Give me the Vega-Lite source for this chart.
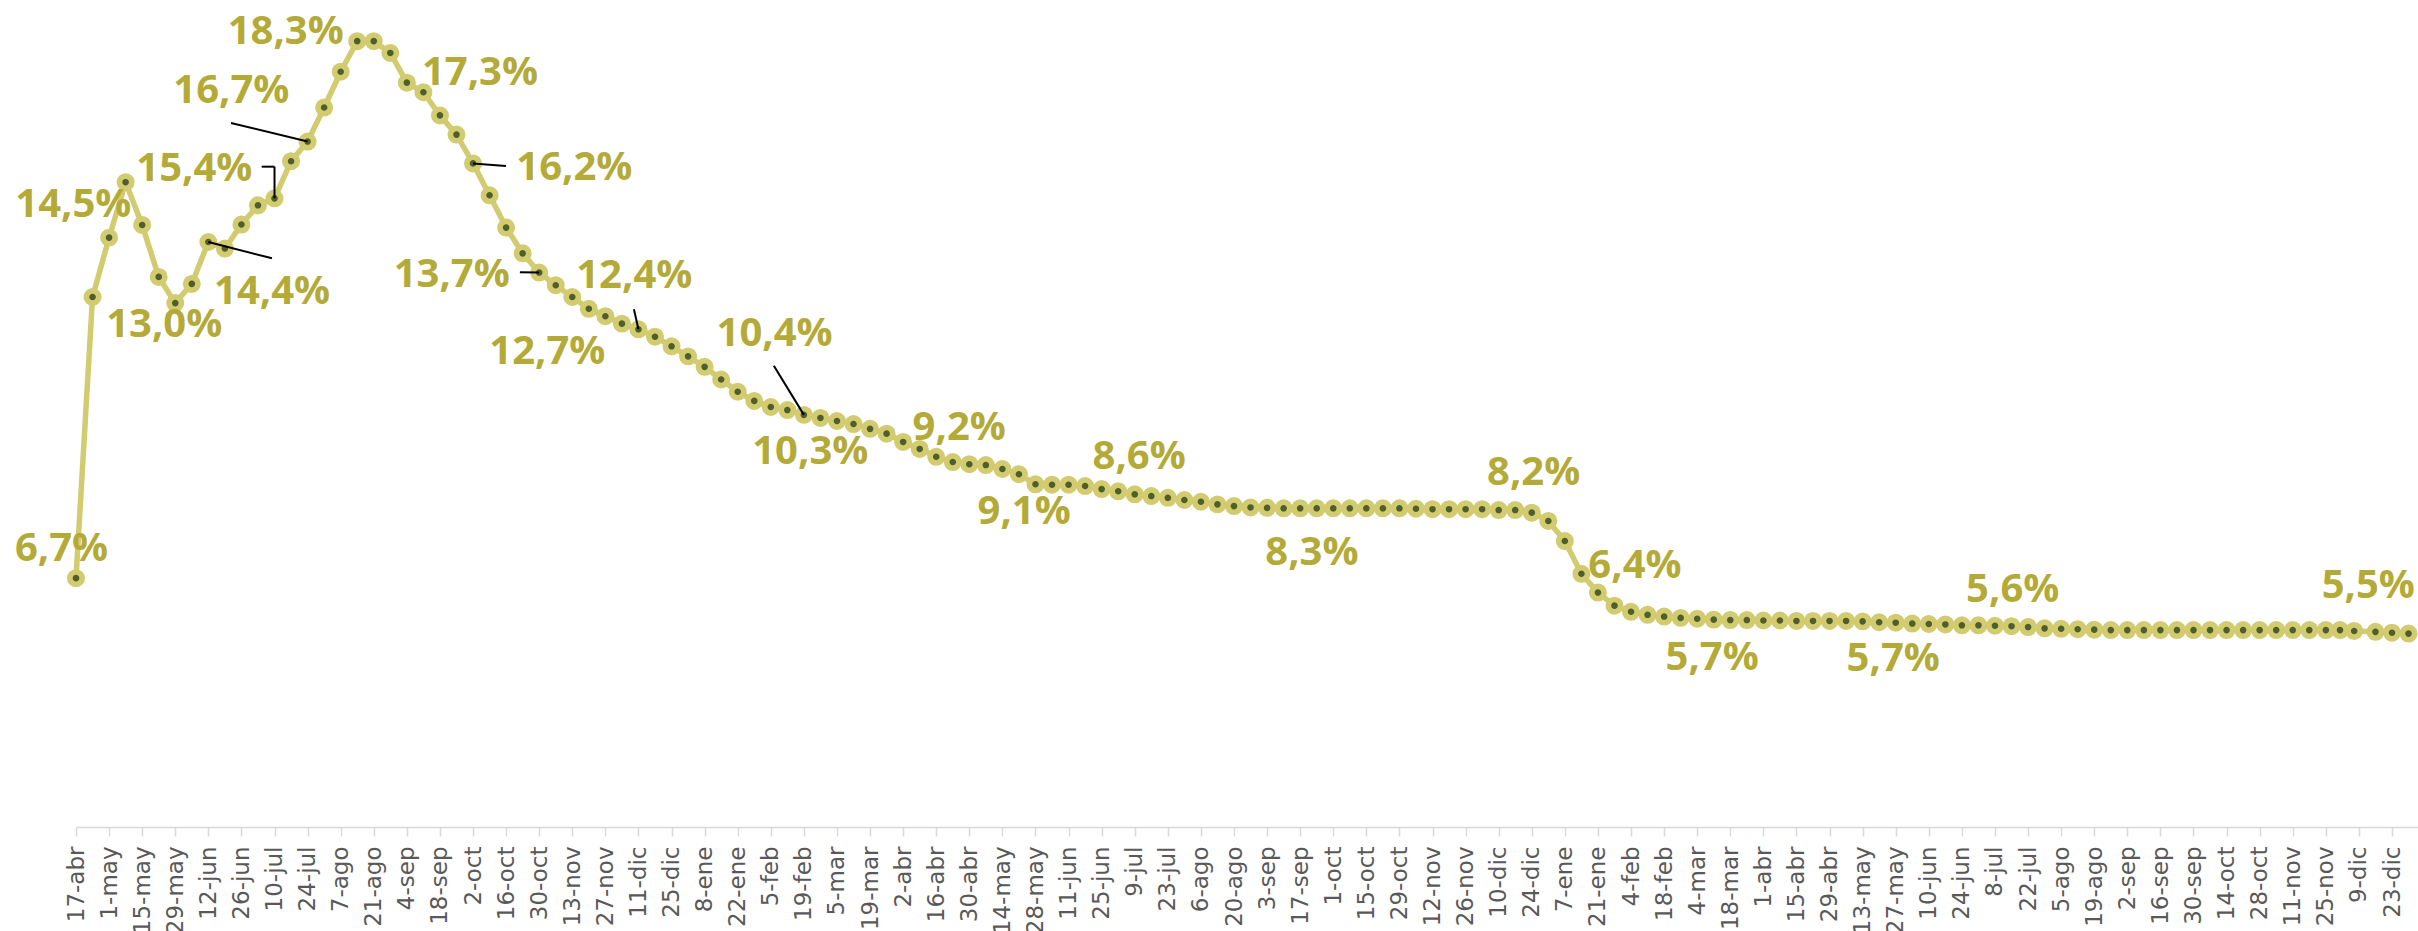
{
  "$schema": "https://vega.github.io/schema/vega-lite/v6.json",
  "width": 2342,
  "height": 826,
  "autosize": "none",
  "padding": {"left": 76, "top": 1, "right": 0, "bottom": 104},
  "background": "white",
  "config": {
    "view": {"stroke": null},
    "text": {"font": "Open Sans", "fontSize": 40, "fontWeight": "bold", "color": "#b4aa38", "align": "center", "baseline": "middle"}
  },
  "data": {"values": [
    {"fecha": "2020-04-17", "v": 6.7, "etiqueta": "6,7%"},
    {"fecha": "2020-04-24", "v": 13.14},
    {"fecha": "2020-05-01", "v": 14.5, "etiqueta": "14,5%"},
    {"fecha": "2020-05-08", "v": 15.77},
    {"fecha": "2020-05-15", "v": 14.79},
    {"fecha": "2020-05-22", "v": 13.6},
    {"fecha": "2020-05-29", "v": 13.0, "etiqueta": "13,0%"},
    {"fecha": "2020-06-05", "v": 13.44},
    {"fecha": "2020-06-12", "v": 14.4, "etiqueta": "14,4%"},
    {"fecha": "2020-06-19", "v": 14.25},
    {"fecha": "2020-06-26", "v": 14.8},
    {"fecha": "2020-07-03", "v": 15.24},
    {"fecha": "2020-07-10", "v": 15.4, "etiqueta": "15,4%"},
    {"fecha": "2020-07-17", "v": 16.25},
    {"fecha": "2020-07-24", "v": 16.7, "etiqueta": "16,7%"},
    {"fecha": "2020-07-31", "v": 17.48},
    {"fecha": "2020-08-07", "v": 18.3, "etiqueta": "18,3%"},
    {"fecha": "2020-08-14", "v": 19.0},
    {"fecha": "2020-08-21", "v": 19.0},
    {"fecha": "2020-08-28", "v": 18.73},
    {"fecha": "2020-09-04", "v": 18.05},
    {"fecha": "2020-09-11", "v": 17.83},
    {"fecha": "2020-09-18", "v": 17.3, "etiqueta": "17,3%"},
    {"fecha": "2020-09-25", "v": 16.86},
    {"fecha": "2020-10-02", "v": 16.2, "etiqueta": "16,2%"},
    {"fecha": "2020-10-09", "v": 15.47},
    {"fecha": "2020-10-16", "v": 14.73},
    {"fecha": "2020-10-23", "v": 14.14},
    {"fecha": "2020-10-30", "v": 13.7, "etiqueta": "13,7%"},
    {"fecha": "2020-11-06", "v": 13.41},
    {"fecha": "2020-11-13", "v": 13.14},
    {"fecha": "2020-11-20", "v": 12.87},
    {"fecha": "2020-11-27", "v": 12.7, "etiqueta": "12,7%"},
    {"fecha": "2020-12-04", "v": 12.53},
    {"fecha": "2020-12-11", "v": 12.4, "etiqueta": "12,4%"},
    {"fecha": "2020-12-18", "v": 12.23},
    {"fecha": "2020-12-25", "v": 12.01},
    {"fecha": "2021-01-01", "v": 11.78},
    {"fecha": "2021-01-08", "v": 11.54},
    {"fecha": "2021-01-15", "v": 11.25},
    {"fecha": "2021-01-22", "v": 10.97},
    {"fecha": "2021-01-29", "v": 10.76},
    {"fecha": "2021-02-05", "v": 10.62},
    {"fecha": "2021-02-12", "v": 10.55},
    {"fecha": "2021-02-19", "v": 10.44, "etiqueta": "10,4%"},
    {"fecha": "2021-02-26", "v": 10.37},
    {"fecha": "2021-03-05", "v": 10.3, "etiqueta": "10,3%"},
    {"fecha": "2021-03-12", "v": 10.23},
    {"fecha": "2021-03-19", "v": 10.12},
    {"fecha": "2021-03-26", "v": 10.01},
    {"fecha": "2021-04-02", "v": 9.82},
    {"fecha": "2021-04-09", "v": 9.66},
    {"fecha": "2021-04-16", "v": 9.48},
    {"fecha": "2021-04-23", "v": 9.36},
    {"fecha": "2021-04-30", "v": 9.31},
    {"fecha": "2021-05-07", "v": 9.29},
    {"fecha": "2021-05-14", "v": 9.2, "etiqueta": "9,2%"},
    {"fecha": "2021-05-21", "v": 9.08, "etiqueta": "9,1%"},
    {"fecha": "2021-05-28", "v": 8.85},
    {"fecha": "2021-06-04", "v": 8.84},
    {"fecha": "2021-06-11", "v": 8.84},
    {"fecha": "2021-06-18", "v": 8.81},
    {"fecha": "2021-06-25", "v": 8.74},
    {"fecha": "2021-07-02", "v": 8.69},
    {"fecha": "2021-07-09", "v": 8.62, "etiqueta": "8,6%"},
    {"fecha": "2021-07-16", "v": 8.58},
    {"fecha": "2021-07-23", "v": 8.54},
    {"fecha": "2021-07-30", "v": 8.49},
    {"fecha": "2021-08-06", "v": 8.45},
    {"fecha": "2021-08-13", "v": 8.39},
    {"fecha": "2021-08-20", "v": 8.35},
    {"fecha": "2021-08-27", "v": 8.32},
    {"fecha": "2021-09-03", "v": 8.31},
    {"fecha": "2021-09-10", "v": 8.3},
    {"fecha": "2021-09-17", "v": 8.3},
    {"fecha": "2021-09-24", "v": 8.3, "etiqueta": "8,3%"},
    {"fecha": "2021-10-01", "v": 8.3},
    {"fecha": "2021-10-08", "v": 8.3},
    {"fecha": "2021-10-15", "v": 8.3},
    {"fecha": "2021-10-22", "v": 8.3},
    {"fecha": "2021-10-29", "v": 8.3},
    {"fecha": "2021-11-05", "v": 8.29},
    {"fecha": "2021-11-12", "v": 8.28},
    {"fecha": "2021-11-19", "v": 8.28},
    {"fecha": "2021-11-26", "v": 8.28},
    {"fecha": "2021-12-03", "v": 8.28},
    {"fecha": "2021-12-10", "v": 8.26},
    {"fecha": "2021-12-17", "v": 8.26},
    {"fecha": "2021-12-24", "v": 8.2, "etiqueta": "8,2%"},
    {"fecha": "2021-12-31", "v": 8.01},
    {"fecha": "2022-01-07", "v": 7.55},
    {"fecha": "2022-01-14", "v": 6.8},
    {"fecha": "2022-01-21", "v": 6.37, "etiqueta": "6,4%"},
    {"fecha": "2022-01-28", "v": 6.07},
    {"fecha": "2022-02-04", "v": 5.93},
    {"fecha": "2022-02-11", "v": 5.86},
    {"fecha": "2022-02-18", "v": 5.82},
    {"fecha": "2022-02-25", "v": 5.79},
    {"fecha": "2022-03-04", "v": 5.77},
    {"fecha": "2022-03-11", "v": 5.75, "etiqueta": "5,7%"},
    {"fecha": "2022-03-18", "v": 5.74},
    {"fecha": "2022-03-25", "v": 5.74},
    {"fecha": "2022-04-01", "v": 5.73},
    {"fecha": "2022-04-08", "v": 5.73},
    {"fecha": "2022-04-15", "v": 5.72},
    {"fecha": "2022-04-22", "v": 5.72},
    {"fecha": "2022-04-29", "v": 5.72},
    {"fecha": "2022-05-06", "v": 5.72},
    {"fecha": "2022-05-13", "v": 5.71},
    {"fecha": "2022-05-20", "v": 5.69},
    {"fecha": "2022-05-27", "v": 5.68, "etiqueta": "5,7%"},
    {"fecha": "2022-06-03", "v": 5.66},
    {"fecha": "2022-06-10", "v": 5.65},
    {"fecha": "2022-06-17", "v": 5.64},
    {"fecha": "2022-06-24", "v": 5.62},
    {"fecha": "2022-07-01", "v": 5.62},
    {"fecha": "2022-07-08", "v": 5.61},
    {"fecha": "2022-07-15", "v": 5.6, "etiqueta": "5,6%"},
    {"fecha": "2022-07-22", "v": 5.58},
    {"fecha": "2022-07-29", "v": 5.55},
    {"fecha": "2022-08-05", "v": 5.54},
    {"fecha": "2022-08-12", "v": 5.53},
    {"fecha": "2022-08-19", "v": 5.52},
    {"fecha": "2022-08-26", "v": 5.51},
    {"fecha": "2022-09-02", "v": 5.51},
    {"fecha": "2022-09-09", "v": 5.51},
    {"fecha": "2022-09-16", "v": 5.51},
    {"fecha": "2022-09-23", "v": 5.51},
    {"fecha": "2022-09-30", "v": 5.51},
    {"fecha": "2022-10-07", "v": 5.51},
    {"fecha": "2022-10-14", "v": 5.51},
    {"fecha": "2022-10-21", "v": 5.51},
    {"fecha": "2022-10-28", "v": 5.51},
    {"fecha": "2022-11-04", "v": 5.51},
    {"fecha": "2022-11-11", "v": 5.51},
    {"fecha": "2022-11-18", "v": 5.51},
    {"fecha": "2022-11-25", "v": 5.51},
    {"fecha": "2022-12-01", "v": 5.51},
    {"fecha": "2022-12-07", "v": 5.49},
    {"fecha": "2022-12-16", "v": 5.47, "etiqueta": "5,5%"},
    {"fecha": "2022-12-23", "v": 5.45},
    {"fecha": "2022-12-30", "v": 5.43}
  ]},
  "encoding": {
    "x": {
      "field": "fecha", "type": "temporal",
      "scale": {"type": "utc", "domain": [{"year": 2020, "month": 4, "date": 17, "utc": true}, {"year": 2023, "month": 1, "date": 3, "utc": true}]},
      "axis": {
        "title": null, "grid": false,
        "values": [
          {"year": 2020, "month": 4, "date": 17, "utc": true}, {"year": 2020, "month": 5, "date": 1, "utc": true}, {"year": 2020, "month": 5, "date": 15, "utc": true}, {"year": 2020, "month": 5, "date": 29, "utc": true},
          {"year": 2020, "month": 6, "date": 12, "utc": true}, {"year": 2020, "month": 6, "date": 26, "utc": true}, {"year": 2020, "month": 7, "date": 10, "utc": true}, {"year": 2020, "month": 7, "date": 24, "utc": true},
          {"year": 2020, "month": 8, "date": 7, "utc": true}, {"year": 2020, "month": 8, "date": 21, "utc": true}, {"year": 2020, "month": 9, "date": 4, "utc": true}, {"year": 2020, "month": 9, "date": 18, "utc": true},
          {"year": 2020, "month": 10, "date": 2, "utc": true}, {"year": 2020, "month": 10, "date": 16, "utc": true}, {"year": 2020, "month": 10, "date": 30, "utc": true}, {"year": 2020, "month": 11, "date": 13, "utc": true},
          {"year": 2020, "month": 11, "date": 27, "utc": true}, {"year": 2020, "month": 12, "date": 11, "utc": true}, {"year": 2020, "month": 12, "date": 25, "utc": true},
          {"year": 2021, "month": 1, "date": 8, "utc": true}, {"year": 2021, "month": 1, "date": 22, "utc": true}, {"year": 2021, "month": 2, "date": 5, "utc": true}, {"year": 2021, "month": 2, "date": 19, "utc": true},
          {"year": 2021, "month": 3, "date": 5, "utc": true}, {"year": 2021, "month": 3, "date": 19, "utc": true}, {"year": 2021, "month": 4, "date": 2, "utc": true}, {"year": 2021, "month": 4, "date": 16, "utc": true},
          {"year": 2021, "month": 4, "date": 30, "utc": true}, {"year": 2021, "month": 5, "date": 14, "utc": true}, {"year": 2021, "month": 5, "date": 28, "utc": true}, {"year": 2021, "month": 6, "date": 11, "utc": true},
          {"year": 2021, "month": 6, "date": 25, "utc": true}, {"year": 2021, "month": 7, "date": 9, "utc": true}, {"year": 2021, "month": 7, "date": 23, "utc": true}, {"year": 2021, "month": 8, "date": 6, "utc": true},
          {"year": 2021, "month": 8, "date": 20, "utc": true}, {"year": 2021, "month": 9, "date": 3, "utc": true}, {"year": 2021, "month": 9, "date": 17, "utc": true}, {"year": 2021, "month": 10, "date": 1, "utc": true},
          {"year": 2021, "month": 10, "date": 15, "utc": true}, {"year": 2021, "month": 10, "date": 29, "utc": true}, {"year": 2021, "month": 11, "date": 12, "utc": true}, {"year": 2021, "month": 11, "date": 26, "utc": true},
          {"year": 2021, "month": 12, "date": 10, "utc": true}, {"year": 2021, "month": 12, "date": 24, "utc": true},
          {"year": 2022, "month": 1, "date": 7, "utc": true}, {"year": 2022, "month": 1, "date": 21, "utc": true}, {"year": 2022, "month": 2, "date": 4, "utc": true}, {"year": 2022, "month": 2, "date": 18, "utc": true},
          {"year": 2022, "month": 3, "date": 4, "utc": true}, {"year": 2022, "month": 3, "date": 18, "utc": true}, {"year": 2022, "month": 4, "date": 1, "utc": true}, {"year": 2022, "month": 4, "date": 15, "utc": true},
          {"year": 2022, "month": 4, "date": 29, "utc": true}, {"year": 2022, "month": 5, "date": 13, "utc": true}, {"year": 2022, "month": 5, "date": 27, "utc": true}, {"year": 2022, "month": 6, "date": 10, "utc": true},
          {"year": 2022, "month": 6, "date": 24, "utc": true}, {"year": 2022, "month": 7, "date": 8, "utc": true}, {"year": 2022, "month": 7, "date": 22, "utc": true}, {"year": 2022, "month": 8, "date": 5, "utc": true},
          {"year": 2022, "month": 8, "date": 19, "utc": true}, {"year": 2022, "month": 9, "date": 2, "utc": true}, {"year": 2022, "month": 9, "date": 16, "utc": true}, {"year": 2022, "month": 9, "date": 30, "utc": true},
          {"year": 2022, "month": 10, "date": 14, "utc": true}, {"year": 2022, "month": 10, "date": 28, "utc": true}, {"year": 2022, "month": 11, "date": 11, "utc": true}, {"year": 2022, "month": 11, "date": 25, "utc": true},
          {"year": 2022, "month": 12, "date": 9, "utc": true}, {"year": 2022, "month": 12, "date": 23, "utc": true}
        ],
        "labelExpr": "utcdate(datum.value) + '-' + ['ene','feb','mar','abr','may','jun','jul','ago','sep','oct','nov','dic'][utcmonth(datum.value)]",
        "labelAngle": -90,
        "labelFont": "DejaVu Sans", "labelFontSize": 23, "labelColor": "#595959",
        "labelPadding": 10, "labelOverlap": false, "labelBound": false, "labelFlush": false,
        "tickColor": "#d9d9d9", "tickSize": 9, "tickWidth": 1.5,
        "domainColor": "#d9d9d9", "domainWidth": 1.5
      }
    },
    "y": {"field": "v", "type": "quantitative", "scale": {"domain": [1, 19.92], "nice": false, "zero": false}, "axis": null}
  },
  "layer": [
    {"mark": {"type": "line", "color": "#d2cb70", "strokeWidth": 5.5}},
    {"mark": {"type": "circle", "size": 151, "fill": "#4e5f2b", "stroke": "#d2cb70", "strokeWidth": 5.7, "opacity": 1, "fillOpacity": 1}},
    {"transform": [{"filter": "datum.etiqueta == '16,7%'"}], "mark": {"type": "rule", "color": "black", "strokeWidth": 2},
     "encoding": {"x2": {"datum": {"year": 2020, "month": 6, "date": 21, "hours": 14, "utc": true}}, "y2": {"datum": 17.126}}},
    {"transform": [{"filter": "datum.etiqueta == '14,4%'"}], "mark": {"type": "rule", "color": "black", "strokeWidth": 2},
     "encoding": {"x2": {"datum": {"year": 2020, "month": 7, "date": 8, "hours": 22, "utc": true}}, "y2": {"datum": 14.026}}},
    {"transform": [{"filter": "datum.etiqueta == '15,4%'"}], "mark": {"type": "rule", "color": "black", "strokeWidth": 2},
     "encoding": {"y2": {"datum": 16.125}}},
    {"transform": [{"filter": "datum.etiqueta == '15,4%'"}], "mark": {"type": "rule", "color": "black", "strokeWidth": 2},
     "encoding": {"y": {"datum": 16.125}, "x2": {"datum": {"year": 2020, "month": 7, "date": 4, "hours": 14, "utc": true}}}},
    {"transform": [{"filter": "datum.etiqueta == '16,2%'"}], "mark": {"type": "rule", "color": "black", "strokeWidth": 2},
     "encoding": {"x2": {"datum": {"year": 2020, "month": 10, "date": 15, "hours": 22, "utc": true}}, "y2": {"datum": 16.14}}},
    {"transform": [{"filter": "datum.etiqueta == '13,7%'"}], "mark": {"type": "rule", "color": "black", "strokeWidth": 2},
     "encoding": {"x2": {"datum": {"year": 2020, "month": 10, "date": 21, "hours": 20, "utc": true}}, "y2": {"datum": 13.706}}},
    {"transform": [{"filter": "datum.etiqueta == '12,4%'"}], "mark": {"type": "rule", "color": "black", "strokeWidth": 2},
     "encoding": {"x2": {"datum": {"year": 2020, "month": 12, "date": 9, "hours": 2, "utc": true}}, "y2": {"datum": 12.858}}},
    {"transform": [{"filter": "datum.etiqueta == '10,4%'"}], "mark": {"type": "rule", "color": "black", "strokeWidth": 2},
     "encoding": {"x2": {"datum": {"year": 2021, "month": 2, "date": 6, "hours": 7, "utc": true}}, "y2": {"datum": 11.566}}},
    {"transform": [{"filter": "datum.etiqueta == '6,7%'"}], "mark": {"type": "text", "dx": -14.5, "dy": -28.7}, "encoding": {"text": {"field": "etiqueta"}}},
    {"transform": [{"filter": "datum.etiqueta == '14,5%'"}], "mark": {"type": "text", "dx": -35.8, "dy": -32.9}, "encoding": {"text": {"field": "etiqueta"}}},
    {"transform": [{"filter": "datum.etiqueta == '13,0%'"}], "mark": {"type": "text", "dx": -11, "dy": 21.9}, "encoding": {"text": {"field": "etiqueta"}}},
    {"transform": [{"filter": "datum.etiqueta == '14,4%'"}], "mark": {"type": "text", "dx": 63.7, "dy": 49.7}, "encoding": {"text": {"field": "etiqueta"}}},
    {"transform": [{"filter": "datum.etiqueta == '15,4%'"}], "mark": {"type": "text", "dx": -80.2, "dy": -29.1}, "encoding": {"text": {"field": "etiqueta"}}},
    {"transform": [{"filter": "datum.etiqueta == '16,7%'"}], "mark": {"type": "text", "dx": -76.3, "dy": -50.3}, "encoding": {"text": {"field": "etiqueta"}}},
    {"transform": [{"filter": "datum.etiqueta == '18,3%'"}], "mark": {"type": "text", "dx": -55, "dy": -39.7}, "encoding": {"text": {"field": "etiqueta"}}},
    {"transform": [{"filter": "datum.etiqueta == '17,3%'"}], "mark": {"type": "text", "dx": 40, "dy": -41.9}, "encoding": {"text": {"field": "etiqueta"}}},
    {"transform": [{"filter": "datum.etiqueta == '16,2%'"}], "mark": {"type": "text", "dx": 101.3, "dy": 4.9}, "encoding": {"text": {"field": "etiqueta"}}},
    {"transform": [{"filter": "datum.etiqueta == '13,7%'"}], "mark": {"type": "text", "dx": -87.5, "dy": 2.6}, "encoding": {"text": {"field": "etiqueta"}}},
    {"transform": [{"filter": "datum.etiqueta == '12,7%'"}], "mark": {"type": "text", "dx": -58, "dy": 35.8}, "encoding": {"text": {"field": "etiqueta"}}},
    {"transform": [{"filter": "datum.etiqueta == '12,4%'"}], "mark": {"type": "text", "dx": -4.2, "dy": -53}, "encoding": {"text": {"field": "etiqueta"}}},
    {"transform": [{"filter": "datum.etiqueta == '10,4%'"}], "mark": {"type": "text", "dx": -29.3, "dy": -80.7}, "encoding": {"text": {"field": "etiqueta"}}},
    {"transform": [{"filter": "datum.etiqueta == '10,3%'"}], "mark": {"type": "text", "dx": -26.7, "dy": 30.7}, "encoding": {"text": {"field": "etiqueta"}}},
    {"transform": [{"filter": "datum.etiqueta == '9,2%'"}], "mark": {"type": "text", "dx": -43.2, "dy": -40.7}, "encoding": {"text": {"field": "etiqueta"}}},
    {"transform": [{"filter": "datum.etiqueta == '9,1%'"}], "mark": {"type": "text", "dx": 5.2, "dy": 37.4}, "encoding": {"text": {"field": "etiqueta"}}},
    {"transform": [{"filter": "datum.etiqueta == '8,6%'"}], "mark": {"type": "text", "dx": 4.4, "dy": -37.6}, "encoding": {"text": {"field": "etiqueta"}}},
    {"transform": [{"filter": "datum.etiqueta == '8,3%'"}], "mark": {"type": "text", "dx": -4.8, "dy": 44.2}, "encoding": {"text": {"field": "etiqueta"}}},
    {"transform": [{"filter": "datum.etiqueta == '8,2%'"}], "mark": {"type": "text", "dx": 1.9, "dy": -39.4}, "encoding": {"text": {"field": "etiqueta"}}},
    {"transform": [{"filter": "datum.etiqueta == '6,4%'"}], "mark": {"type": "text", "dx": 37, "dy": -26.8}, "encoding": {"text": {"field": "etiqueta"}}},
    {"transform": [{"filter": "datum.etiqueta == '5,7%' && datum.v > 5.7"}], "mark": {"type": "text", "dx": -1.6, "dy": 37.9}, "encoding": {"text": {"field": "etiqueta"}}},
    {"transform": [{"filter": "datum.etiqueta == '5,7%' && datum.v < 5.7"}], "mark": {"type": "text", "dx": -2.5, "dy": 36.3}, "encoding": {"text": {"field": "etiqueta"}}},
    {"transform": [{"filter": "datum.etiqueta == '5,6%'"}], "mark": {"type": "text", "dx": 1.2, "dy": -36.2}, "encoding": {"text": {"field": "etiqueta"}}},
    {"transform": [{"filter": "datum.etiqueta == '5,5%'"}], "mark": {"type": "text", "dx": -7.2, "dy": -46.1}, "encoding": {"text": {"field": "etiqueta"}}}
  ]
}
